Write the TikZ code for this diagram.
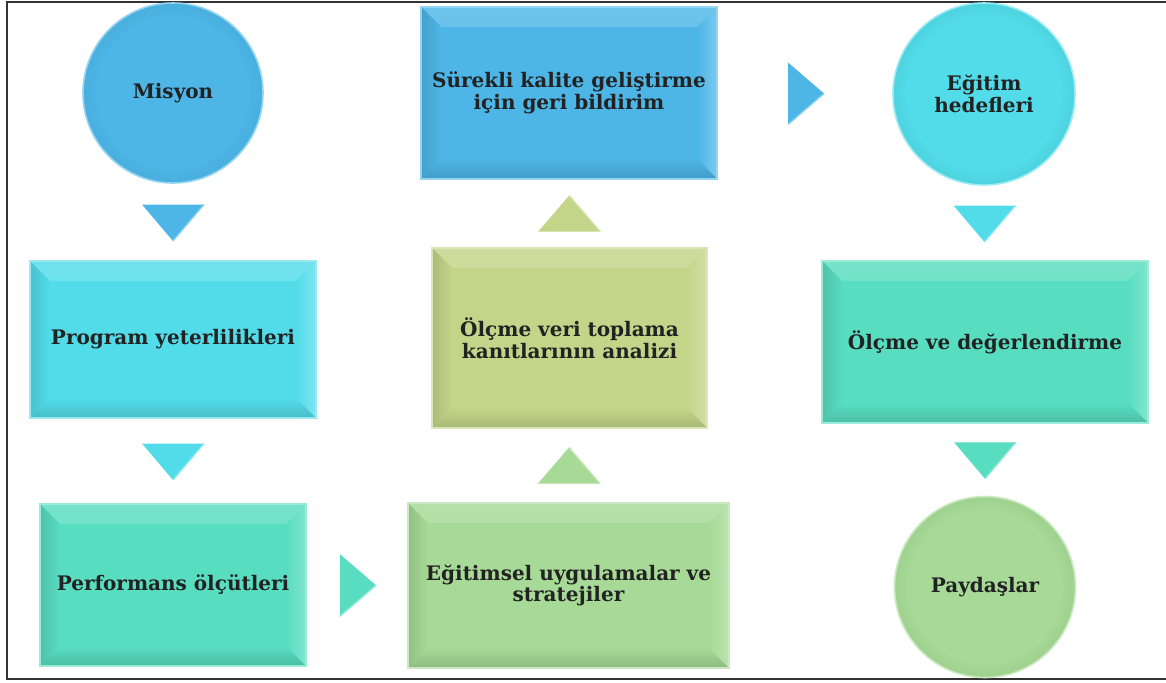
\documentclass[tikz,border=0pt]{standalone}
\usepackage{fontspec}
\newfontfamily\labfont{DejaVu Serif}
\usetikzlibrary{calc}
\definecolor{cBlue}{HTML}{4DB6E7}
\definecolor{cCyan}{HTML}{52DCE9}
\definecolor{cTeal}{HTML}{58DDC0}
\definecolor{cGreen}{HTML}{A6DA96}
\definecolor{cOlive}{HTML}{C3D589}
\definecolor{txt}{HTML}{222222}
\newcommand\DownTri[2]{\fill[#2] ($(#1)+(-31,-17.5)$) -- ($(#1)+(31,-17.5)$) -- ($(#1)+(0,19)$) -- cycle;
  \draw[#2!65!white, line width=1pt] ($(#1)+(31,-17.5)$) -- ($(#1)+(0,19)$);}
\newcommand\UpTri[2]{\fill[#2] ($(#1)+(-31,18)$) -- ($(#1)+(31,18)$) -- ($(#1)+(0,-18)$) -- cycle;
  \draw[#2!65!white, line width=1pt] ($(#1)+(31,18)$) -- ($(#1)+(0,-18)$);}
\newcommand\RightTri[2]{\fill[#2] ($(#1)+(-17,-31)$) -- ($(#1)+(-17,31)$) -- ($(#1)+(19,0)$) -- cycle;
  \draw[#2!65!white, line width=1pt] ($(#1)+(-17,31)$) -- ($(#1)+(19,0)$);}
\tikzset{
  every node/.style={text=txt, align=center, inner sep=0pt,
    font=\labfont\bfseries\fontsize{15}{16.3}\selectfont},
  bev/.style n args={3}{rectangle, minimum width=#2, minimum height=#3,
    fill=#1, draw=#1!60!white, line width=1.2pt,
    path picture={
      \shade[top color=#1!82!white, bottom color=#1]
        (path picture bounding box.north west) -- (path picture bounding box.north east)
        -- ([shift={(-15pt,-15pt)}]path picture bounding box.north east)
        -- ([shift={(15pt,-15pt)}]path picture bounding box.north west) -- cycle;
      \shade[left color=#1, right color=#1!75!white]
        (path picture bounding box.north east) -- (path picture bounding box.south east)
        -- ([shift={(-15pt,15pt)}]path picture bounding box.south east)
        -- ([shift={(-15pt,-15pt)}]path picture bounding box.north east) -- cycle;
      \shade[top color=#1, bottom color=#1!86!black]
        (path picture bounding box.south west) -- (path picture bounding box.south east)
        -- ([shift={(-15pt,15pt)}]path picture bounding box.south east)
        -- ([shift={(15pt,15pt)}]path picture bounding box.south west) -- cycle;
      \shade[left color=#1!88!black, right color=#1]
        (path picture bounding box.north west) -- (path picture bounding box.south west)
        -- ([shift={(15pt,15pt)}]path picture bounding box.south west)
        -- ([shift={(15pt,-15pt)}]path picture bounding box.north west) -- cycle;
    }},
  circ/.style 2 args={circle, minimum size=#2, fill=#1, draw=#1!60!white, line width=1.2pt,
    path picture={
      \foreach \k in {1,...,9}{
        \pgfmathsetmacro\op{0.12-0.012*\k}
        \draw[#1!70!black, line width=1.1pt, opacity=\op]
          (path picture bounding box.center) circle[radius=#2/2-\k*1.05pt];
      }
    }},
}
\begin{document}
\begin{tikzpicture}[x=0.75pt, y=-0.75pt]
\useasboundingbox (0,0) rectangle (1166,682);
\fill[white] (0,0) rectangle (1166,682);
% frame
\draw[black!80, line width=1.5pt] (1166,1.5) -- (7,1.5) -- (7,678.5) -- (1166,678.5);

% nodes
\node[circ={cBlue}{135pt}] (misyon) at (173,93) {Misyon};
\node[bev={cBlue}{222pt}{129pt}] (surekli) at (569,93) {Sürekli kalite geliştirme\\için geri bildirim};
\node[circ={cCyan}{136.5pt}] (egitimh) at (984,94) {Eğitim\\hedefleri};
\node[bev={cCyan}{214.5pt}{117.75pt}] (program) at (173,339.5) {Program yeterlilikleri};
\node[bev={cOlive}{206.25pt}{135pt}] (olcmeveri) at (569.5,338) {Ölçme veri toplama\\kanıtlarının analizi};
\node[bev={cTeal}{244.5pt}{121.5pt}] (olcmedeg) at (985,342) {Ölçme ve değerlendirme};
\node[bev={cTeal}{199.5pt}{121.5pt}] (perf) at (173,585) {Performans ölçütleri};
\node[bev={cGreen}{240.75pt}{123.75pt}] (egitimsel) at (568.5,585.5) {Eğitimsel uygulamalar ve\\stratejiler};
\node[circ={cGreen}{135.75pt}] (paydas) at (985,587) {Paydaşlar};

% connector triangles
\coordinate (t1) at ($(misyon.south)!.5!(program.north)$);
\coordinate (t2) at ($(program.south)!.5!(perf.north)$);
\coordinate (t3) at ($(perf.east)!.5!(egitimsel.west)$);
\coordinate (t4) at ($(egitimsel.north)!.5!(olcmeveri.south)$);
\coordinate (t5) at ($(olcmeveri.north)!.5!(surekli.south)$);
\coordinate (t6) at ($(surekli.east)!.5!(egitimh.west)$);
\coordinate (t7) at ($(egitimh.south)!.5!(olcmedeg.north)$);
\coordinate (t8) at ($(olcmedeg.south)!.5!(paydas.north)$);
\DownTri{t1}{cBlue}
\DownTri{t2}{cCyan}
\RightTri{t3}{cTeal}
\UpTri{t4}{cGreen}
\UpTri{t5}{cOlive}
\RightTri{t6}{cBlue}
\DownTri{t7}{cCyan}
\DownTri{t8}{cTeal}
\end{tikzpicture}
\end{document}
